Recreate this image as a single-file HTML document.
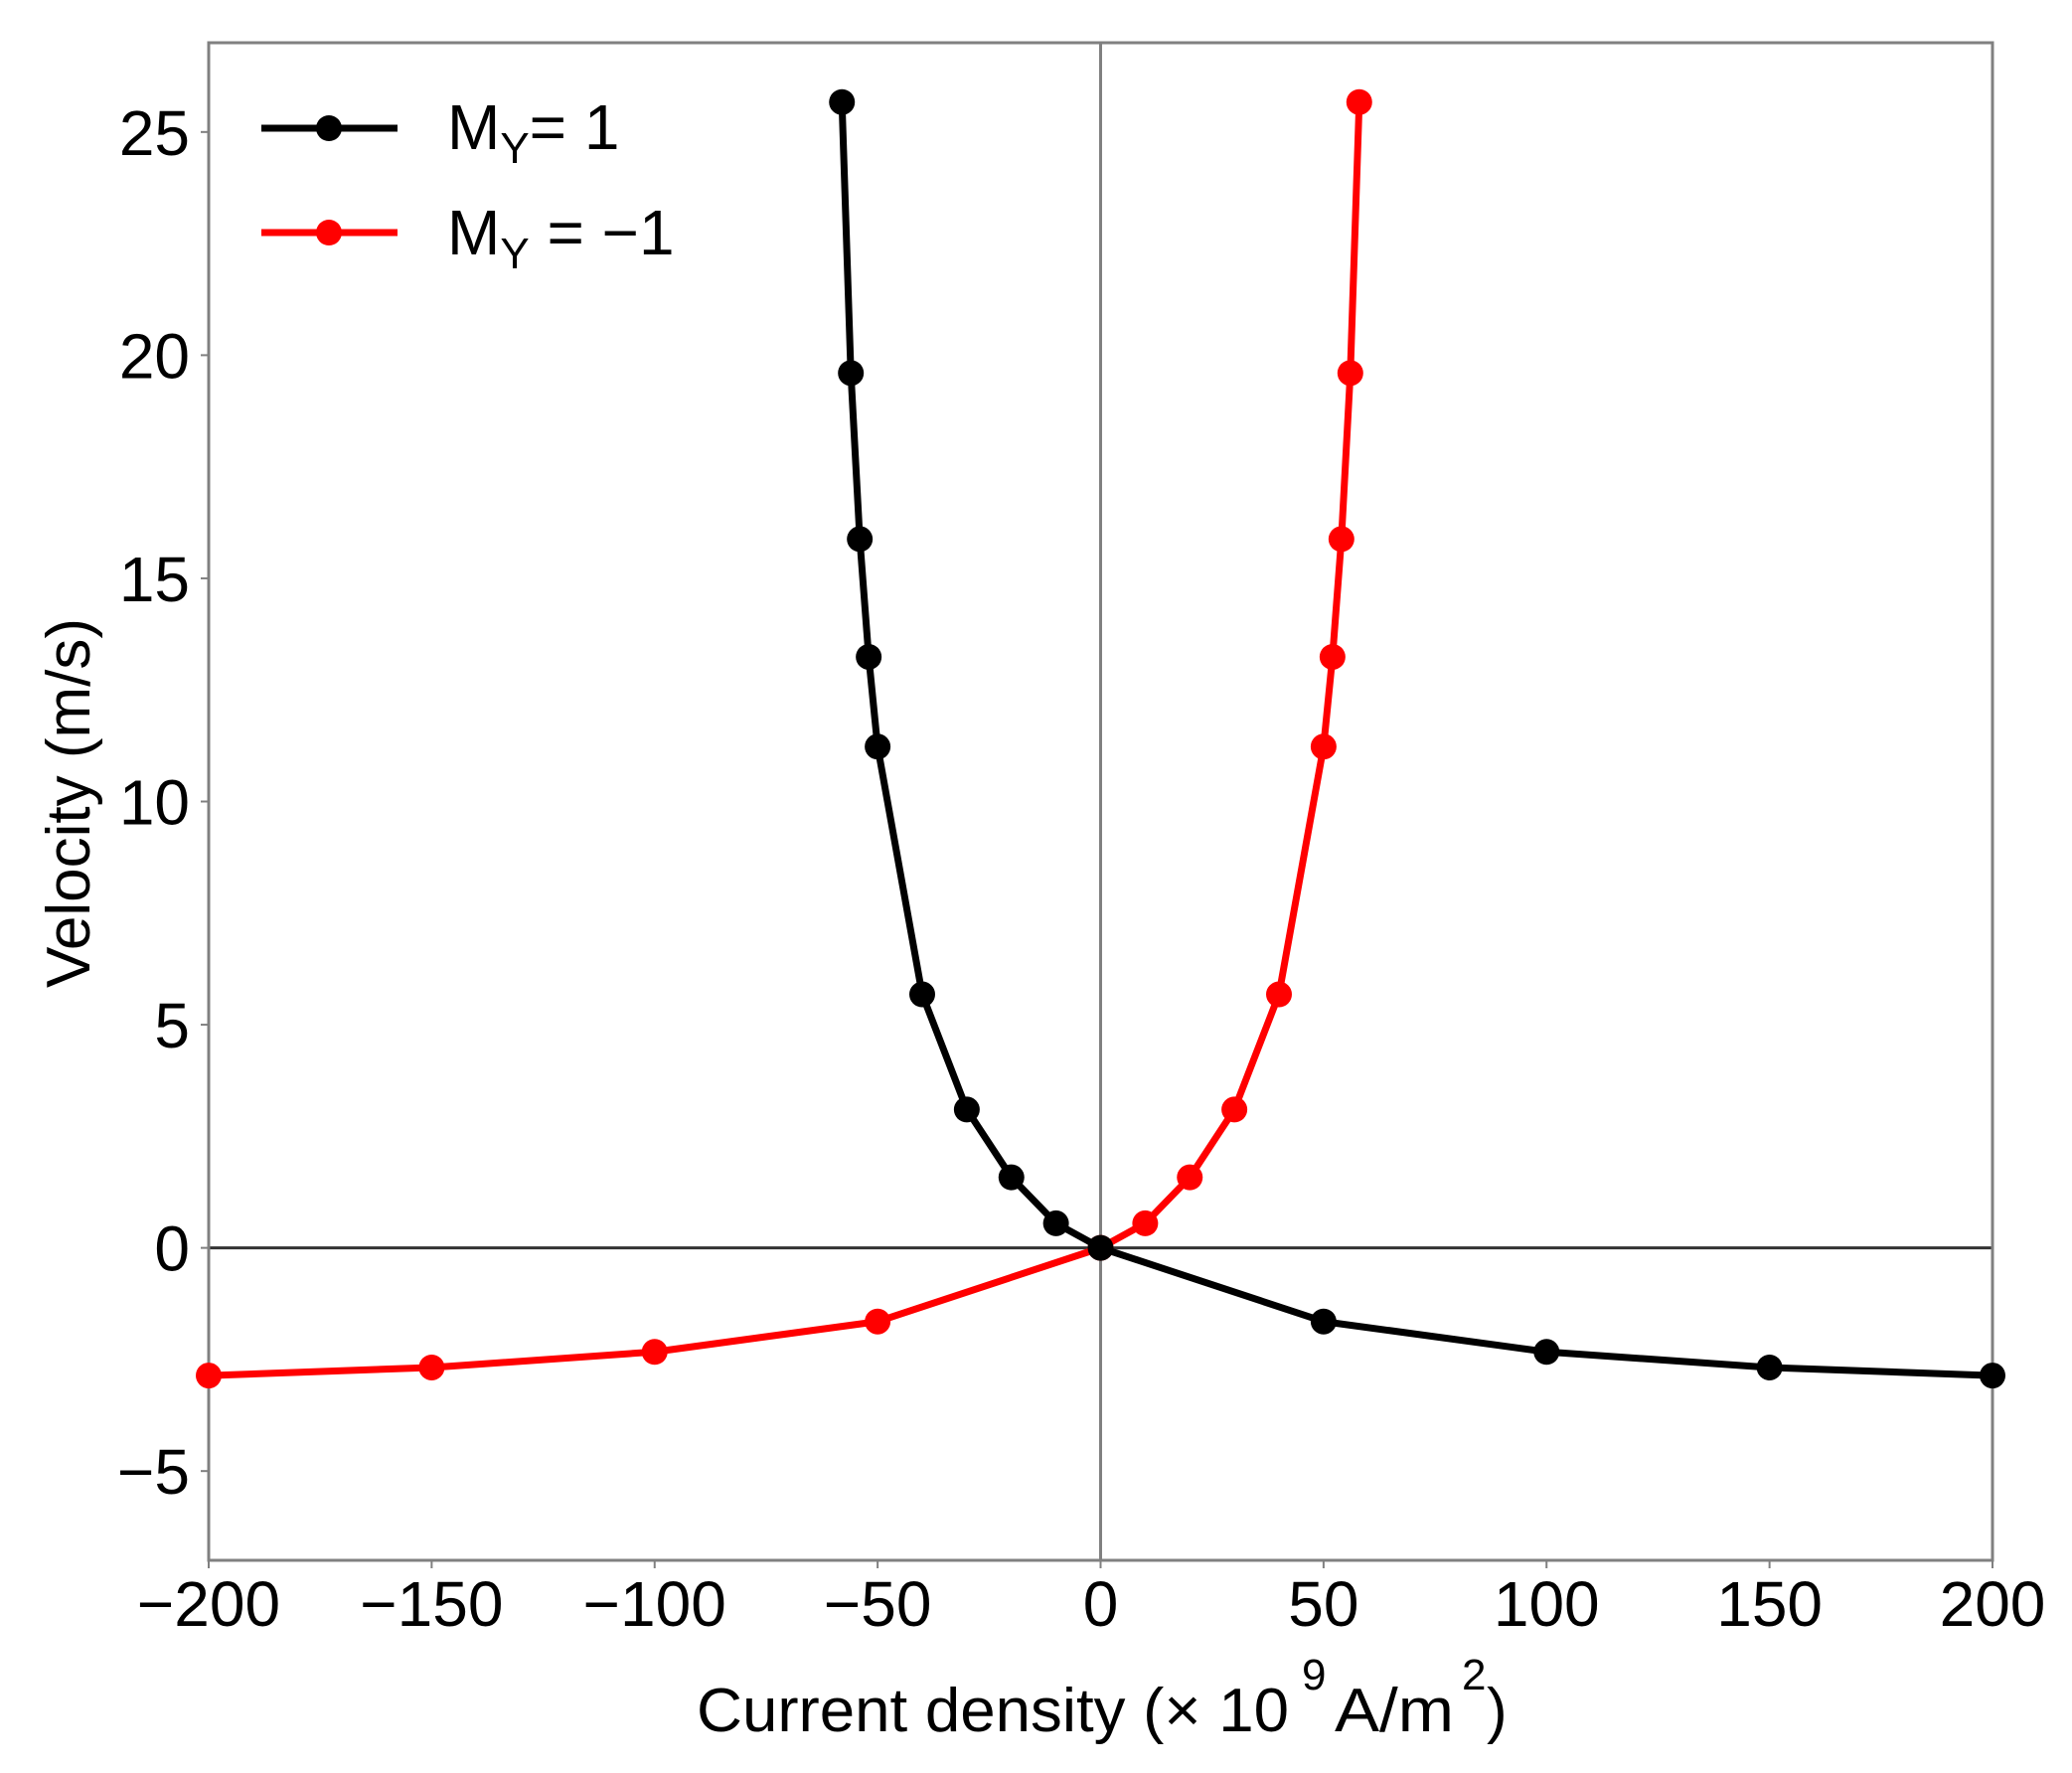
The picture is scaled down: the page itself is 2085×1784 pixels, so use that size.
<!DOCTYPE html>
<html><head><meta charset="utf-8"><style>
html,body{margin:0;padding:0;background:#fff;}
svg{display:block;font-family:"Liberation Sans",Arial,sans-serif;}
</style></head><body>
<svg id="chart" width="2085" height="1784" viewBox="0 0 2085 1784" xmlns="http://www.w3.org/2000/svg">
<g id="axes"></g>
<g id="series"></g>
<g>
  <line x1="263" y1="129" x2="400" y2="129" stroke="#000" stroke-width="7"/>
  <circle cx="331" cy="129" r="13" fill="#000"/>
  <text x="450" y="150" font-size="64">M<tspan font-size="44" dy="14">Y</tspan><tspan dy="-14">= 1</tspan></text>
  <line x1="263" y1="234" x2="400" y2="234" stroke="#f00" stroke-width="7"/>
  <circle cx="331" cy="234" r="13" fill="#f00"/>
  <text x="450" y="256" font-size="64">M<tspan font-size="44" dy="14">Y</tspan><tspan dy="-14"> = −1</tspan></text>
</g>
<text transform="translate(90,808) rotate(-90)" text-anchor="middle" font-size="62">Velocity (m/s)</text>
<g font-size="62">
  <text x="701" y="1742" textLength="596" lengthAdjust="spacingAndGlyphs">Current density (× 10</text>
  <text x="1310" y="1700" font-size="44">9</text>
  <text x="1343" y="1742" textLength="120" lengthAdjust="spacingAndGlyphs">A/m</text>
  <text x="1471" y="1700" font-size="44">2</text>
  <text x="1496" y="1742">)</text>
</g>
</svg>
<script>
const xTicks = [-200, -150, -100, -50, 0, 50, 100, 150, 200];
const xTickLabels = ["−200", "−150", "−100", "−50", "0", "50", "100", "150", "200"];
const yTicks = [-5, 0, 5, 10, 15, 20, 25];
const yTickLabels = ["−5", "0", "5", "10", "15", "20", "25"];
const posX = [-58, -56, -54, -52, -50, -40, -30, -20, -10, 0, 50, 100, 150, 200];
const posY = [25.67, 19.6, 15.88, 13.24, 11.23, 5.68, 3.1, 1.58, 0.55, 0, -1.65, -2.33, -2.68, -2.86];
const negX = [-200, -150, -100, -50, 0, 10, 20, 30, 40, 50, 52, 54, 56, 58];
const negY = [-2.86, -2.68, -2.33, -1.65, 0, 0.55, 1.58, 3.1, 5.68, 11.23, 13.24, 15.88, 19.6, 25.67];

const X0 = 210, X1 = 2005, Y0 = 1570, Y1 = 43;
const xMin = -200, xMax = 200, yMin = -7, yMax = 27;
function sx(v){ return X0 + (v - xMin) / (xMax - xMin) * (X1 - X0); }
function sy(v){ return Y0 - (v - yMin) / (yMax - yMin) * (Y0 - Y1); }
const NS = "http://www.w3.org/2000/svg";
function mk(tag, attrs, parent){ const e = document.createElementNS(NS, tag); for (const k in attrs) e.setAttribute(k, attrs[k]); parent.appendChild(e); return e; }
const axes = document.getElementById('axes');
const series = document.getElementById('series');

let zl = mk('line', {x1: sx(0), y1: Y1, x2: sx(0), y2: Y0, stroke: '#808080', 'stroke-width': 3}, axes);


let zh = mk('line', {x1: X0, y1: sy(0), x2: X1, y2: sy(0), stroke: '#333', 'stroke-width': 3}, axes);



let fr = mk('rect', {x: X0, y: Y1, width: X1 - X0, height: Y0 - Y1, fill: 'none', stroke: '#808080', 'stroke-width': 3}, axes);



xTicks.forEach((t, i) => {
  const x = sx(t);
  let tk = mk('line', {x1: x, y1: Y0, x2: x, y2: Y0 + 8, stroke: '#808080', 'stroke-width': 2}, axes);
  
  
  let lb = mk('text', {x: x, y: 1636, 'text-anchor': 'middle', 'font-size': 64}, axes);
  
  
  lb.textContent = xTickLabels[i];
});
yTicks.forEach((t, i) => {
  const y = sy(t);
  let tk = mk('line', {x1: X0 - 8, y1: y, x2: X0, y2: y, stroke: '#808080', 'stroke-width': 2}, axes);
  
  
  let lb = mk('text', {x: 191, y: y + 23, 'text-anchor': 'end', 'font-size': 64}, axes);
  
  
  lb.textContent = yTickLabels[i];
});

function drawSeries(xs, ys, color, name){
  const g = mk('g', {}, series);
  
  
  const pts = xs.map((x, i) => sx(x) + ',' + sy(ys[i])).join(' ');
  const pl = mk('polyline', {points: pts, fill: 'none', stroke: color, 'stroke-width': 7, 'stroke-linejoin': 'round'}, g);
  
  
  xs.forEach((x, i) => {
    const c = mk('circle', {cx: sx(x), cy: sy(ys[i]), r: 13, fill: color}, g);
    
    
  });
}
drawSeries(negX, negY, '#ff0000', 'series-my-neg');
drawSeries(posX, posY, '#000000', 'series-my-pos');
</script>
</body></html>
